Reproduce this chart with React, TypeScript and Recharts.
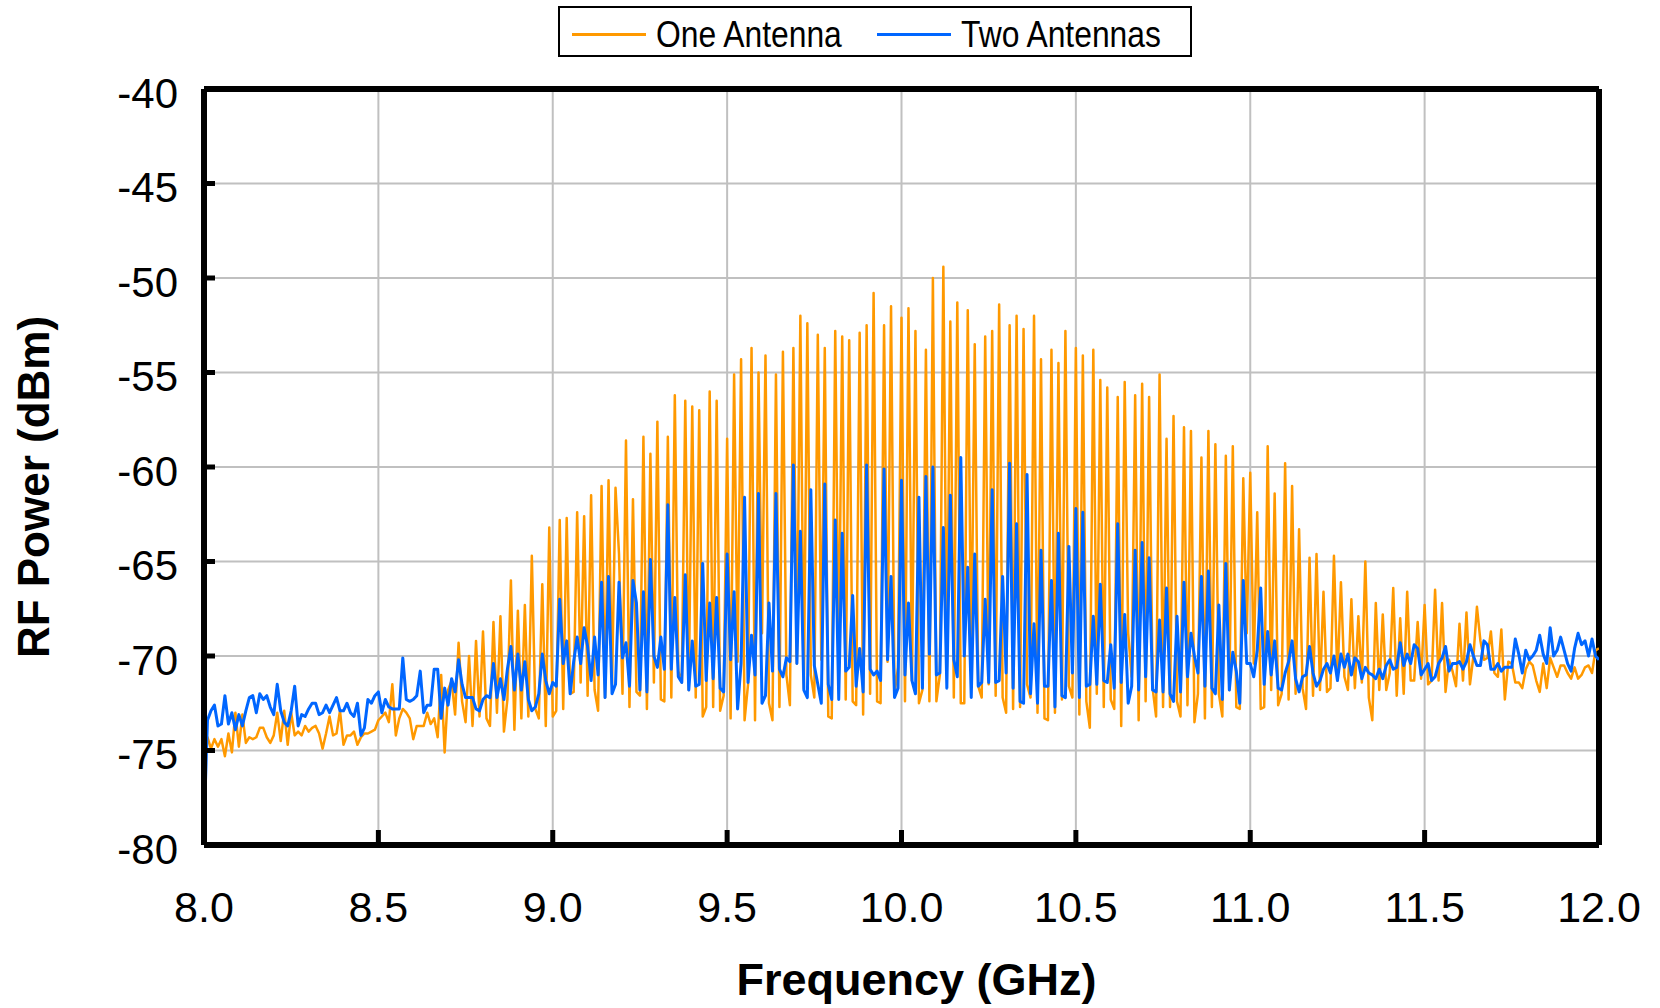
import { LineChart, Line, XAxis, YAxis, CartesianGrid, ReferenceLine } from 'recharts';

// frequency grid of the sweep (GHz)
const freqStart = 8.0;
const freqStep = 0.01;

const xTicks = [8, 8.5, 9, 9.5, 10, 10.5, 11, 11.5, 12];
const yTicks = [-80, -75, -70, -65, -60, -55, -50, -45, -40];

// RF power (dBm), one value per 10 MHz step from 8.00 GHz
const oneAntenna = [
  -76.0, -74.3, -74.9, -74.4, -74.8, -74.4, -75.3, -74.1, -75.1, -73.0,
  -74.8, -73.1, -74.6, -74.3, -74.4, -74.3, -73.8, -73.8, -74.3, -74.6,
  -74.2, -73.0, -74.5, -72.9, -74.7, -73.0, -74.2, -74.0, -74.2, -73.7,
  -74.0, -73.8, -73.7, -74.1, -74.9, -74.1, -73.2, -74.2, -74.1, -72.9,
  -74.7, -74.2, -74.2, -74.0, -74.7, -74.3, -74.1, -74.1, -74.0, -73.9,
  -73.4, -73.2, -73.0, -73.5, -71.5, -74.2, -73.3, -72.8, -73.0, -73.3,
  -74.4, -73.7, -73.7, -73.7, -73.0, -73.6, -73.3, -74.3, -71.0, -75.1,
  -71.8, -71.3, -73.1, -69.3, -72.4, -73.5, -70.0, -73.7, -69.2, -73.2,
  -68.7, -73.3, -73.7, -68.2, -73.0, -67.9, -74.0, -72.3, -66.0, -73.9,
  -67.6, -73.3, -67.3, -73.2, -64.7, -72.8, -73.3, -66.2, -73.7, -63.2,
  -73.2, -72.9, -62.8, -72.8, -62.7, -72.0, -71.9, -62.4, -71.4, -62.6,
  -72.1, -61.5, -71.8, -72.9, -61.0, -72.2, -60.7, -71.5, -61.1, -64.6,
  -72.0, -58.6, -72.7, -61.7, -71.9, -72.1, -58.4, -72.8, -59.3, -71.4,
  -57.6, -72.3, -72.4, -58.4, -72.2, -56.2, -70.8, -71.4, -56.5, -71.8,
  -56.8, -72.2, -57.0, -73.2, -72.7, -56.0, -72.7, -56.5, -72.9, -72.1,
  -58.5, -73.3, -55.1, -70.3, -54.3, -73.4, -71.5, -53.7, -73.4, -55.0,
  -68.8, -54.1, -72.5, -73.4, -55.1, -72.7, -53.9, -71.0, -72.6, -53.7,
  -70.4, -52.0, -71.7, -52.4, -71.0, -72.2, -53.0, -70.2, -53.7, -73.2,
  -73.3, -52.8, -70.4, -53.1, -72.3, -53.3, -72.4, -72.6, -52.9, -73.1,
  -52.5, -72.0, -50.8, -72.4, -72.5, -52.5, -70.3, -51.5, -72.0, -70.6,
  -52.1, -72.4, -51.6, -71.3, -52.8, -72.5, -71.8, -53.8, -72.4, -50.0,
  -72.4, -71.0, -49.4, -70.6, -52.3, -72.2, -51.3, -72.5, -72.5, -51.7,
  -70.4, -53.5, -71.6, -72.2, -53.1, -71.5, -52.8, -72.1, -51.4, -72.2,
  -73.0, -52.5, -72.8, -52.0, -72.7, -52.7, -71.5, -72.2, -52.0, -73.0,
  -54.3, -73.3, -73.4, -53.8, -73.0, -54.5, -72.3, -52.8, -71.6, -72.2,
  -53.7, -73.1, -54.1, -72.4, -73.8, -53.8, -72.0, -55.4, -72.7, -55.8,
  -72.3, -72.8, -56.3, -73.7, -55.5, -68.8, -71.1, -56.2, -73.4, -55.6,
  -72.4, -56.3, -71.7, -73.2, -55.1, -72.7, -58.5, -72.7, -57.3, -72.4,
  -73.2, -57.9, -72.6, -58.1, -73.5, -72.0, -59.5, -73.3, -58.1, -72.7,
  -58.8, -72.0, -73.2, -59.4, -71.8, -58.9, -72.7, -72.8, -60.6, -68.8,
  -60.3, -70.4, -62.4, -72.8, -72.7, -58.9, -71.8, -61.4, -72.6, -72.0,
  -59.8, -72.3, -61.0, -72.0, -63.3, -71.7, -72.8, -64.8, -72.1, -64.6,
  -71.8, -66.6, -71.9, -71.7, -64.7, -71.3, -66.1, -71.1, -71.8, -67.0,
  -71.7, -67.9, -71.4, -65.0, -72.2, -73.4, -67.2, -71.8, -67.8, -71.8,
  -70.9, -66.4, -72.1, -68.0, -72.0, -66.6, -71.3, -71.3, -68.2, -71.2,
  -67.3, -71.5, -71.3, -66.5, -71.3, -67.2, -71.9, -70.2, -70.8, -71.6,
  -68.3, -71.3, -67.7, -71.5, -70.0, -67.4, -69.2, -70.2, -70.1, -68.7,
  -70.9, -71.1, -68.6, -72.3, -70.3, -70.4, -71.4, -71.4, -71.7, -70.7,
  -70.3, -70.5, -71.3, -71.9, -70.4, -71.7, -70.1, -70.6, -71.1, -70.5,
  -70.5, -70.9, -71.2, -70.6, -71.2, -71.0, -70.6, -70.5, -70.9, -69.7,
  -69.6,
];

const twoAntennas = [
  -79.0, -73.4, -72.9, -72.6, -73.7, -73.6, -72.1, -73.6, -73.0, -73.9,
  -73.1, -73.7, -72.9, -72.2, -72.1, -73.0, -72.0, -72.3, -72.1, -72.7,
  -73.1, -71.5, -72.9, -73.5, -73.7, -72.9, -71.6, -73.7, -73.1, -73.2,
  -72.8, -72.5, -72.5, -73.1, -73.0, -72.6, -73.0, -72.6, -72.2, -72.9,
  -72.9, -72.5, -73.0, -73.2, -72.5, -74.2, -73.8, -72.3, -72.5, -72.1,
  -71.9, -73.0, -72.3, -72.7, -72.8, -72.8, -72.8, -70.1, -72.3, -72.4,
  -72.3, -72.1, -70.8, -73.0, -72.6, -72.6, -70.7, -70.7, -73.3, -71.7,
  -72.6, -71.2, -71.9, -70.2, -71.5, -72.2, -72.2, -72.2, -72.8, -72.9,
  -72.3, -72.1, -72.2, -70.4, -72.2, -71.2, -72.3, -70.7, -69.5, -71.8,
  -69.9, -71.8, -70.3, -72.3, -72.9, -72.7, -72.0, -69.9, -71.3, -72.0,
  -71.4, -71.6, -67.0, -70.4, -69.2, -72.0, -70.3, -69.0, -70.4, -68.5,
  -69.5, -71.3, -69.0, -71.0, -66.1, -72.2, -65.8, -72.0, -71.5, -66.1,
  -70.1, -69.3, -71.6, -66.0, -67.2, -71.8, -66.6, -71.9, -64.9, -70.0,
  -70.6, -69.0, -70.7, -62.0, -70.7, -66.9, -71.1, -71.4, -65.7, -71.8,
  -69.2, -71.6, -71.5, -65.1, -71.3, -67.2, -71.2, -66.9, -71.7, -71.9,
  -64.6, -70.2, -66.6, -72.8, -70.4, -61.6, -71.4, -68.9, -71.0, -61.4,
  -72.5, -72.1, -67.2, -70.8, -61.4, -70.7, -71.1, -70.1, -70.3, -59.9,
  -70.4, -63.4, -71.8, -72.2, -61.2, -70.5, -71.5, -72.5, -60.9, -71.5,
  -72.3, -62.8, -72.3, -63.5, -70.8, -70.6, -66.8, -71.6, -69.6, -71.9,
  -59.9, -70.7, -71.0, -70.8, -71.3, -60.1, -70.2, -65.8, -72.2, -71.7,
  -60.7, -71.0, -67.2, -71.3, -72.0, -61.6, -71.7, -60.5, -69.9, -60.0,
  -71.0, -70.9, -63.2, -71.7, -61.5, -70.2, -71.1, -59.5, -70.0, -65.3,
  -72.2, -64.6, -71.6, -71.4, -67.0, -71.4, -61.2, -71.4, -71.3, -65.8,
  -70.9, -59.8, -71.7, -63.0, -72.4, -72.5, -60.4, -72.0, -68.3, -72.5,
  -64.4, -71.6, -71.6, -66.0, -72.7, -63.5, -72.1, -72.2, -64.2, -70.9,
  -62.2, -72.2, -62.4, -71.6, -71.5, -67.9, -71.5, -66.2, -71.3, -71.4,
  -69.4, -71.7, -63.0, -71.4, -67.8, -72.5, -71.6, -64.4, -71.8, -64.0,
  -71.1, -64.8, -71.8, -71.9, -68.1, -71.9, -66.4, -72.0, -72.4, -67.9,
  -71.9, -66.1, -71.1, -68.8, -70.0, -70.9, -65.8, -71.6, -65.5, -71.7,
  -72.0, -67.3, -72.3, -65.1, -71.8, -69.8, -70.8, -72.5, -66.0, -70.4,
  -70.4, -71.1, -69.7, -66.4, -71.5, -68.7, -71.0, -69.2, -71.7, -71.8,
  -70.9, -70.3, -69.2, -71.2, -71.9, -71.1, -71.0, -69.5, -70.9, -71.6,
  -71.3, -70.7, -70.4, -70.9, -70.0, -71.3, -69.9, -70.6, -69.9, -71.0,
  -70.1, -70.3, -71.2, -70.6, -70.9, -71.0, -71.2, -70.7, -71.2, -70.5,
  -70.2, -70.7, -70.6, -69.3, -70.5, -69.9, -70.4, -69.4, -69.6, -71.0,
  -70.7, -70.4, -71.3, -71.1, -70.4, -70.1, -69.5, -70.8, -70.4, -70.4,
  -70.3, -70.7, -70.3, -69.4, -70.0, -70.5, -70.5, -69.2, -69.4, -70.7,
  -70.7, -70.4, -70.8, -70.6, -70.6, -70.6, -69.1, -69.9, -70.9, -69.7,
  -70.2, -70.0, -69.7, -68.9, -69.9, -70.4, -68.5, -70.0, -69.7, -69.0,
  -69.7, -70.4, -70.8, -69.6, -68.8, -69.4, -69.2, -70.0, -69.1, -70.0,
  -70.2,
];

const series = [
  { key: 'one', name: 'One Antenna', color: '#FF9900', width: 2.5 },
  { key: 'two', name: 'Two Antennas', color: '#0066FF', width: 3 },
];

const data = oneAntenna.map((v, i) => ({
  freq: Math.round((freqStart + i * freqStep) * 100) / 100,
  one: v,
  two: twoAntennas[i],
}));

const FONT = '"Liberation Sans", Arial, Helvetica, sans-serif';

const renderXTitle = (props: any) => {
  const vb = props.viewBox;
  return (
    <text
      x={vb.x + vb.width / 2 + 15}
      y={vb.y + 150}
      textAnchor="middle"
      fontFamily={FONT}
      fontWeight="bold"
      fontSize={45}
      fill="#000"
    >
      Frequency (GHz)
    </text>
  );
};

const renderYTitle = (props: any) => {
  const vb = props.viewBox;
  const cx = 33;
  const cy = vb.y + vb.height / 2 + 20;
  return (
    <text
      x={cx}
      y={cy}
      transform={`rotate(-90, ${cx}, ${cy})`}
      textAnchor="middle"
      dominantBaseline="central"
      fontFamily={FONT}
      fontWeight="bold"
      fontSize={44}
      fill="#000"
    >
      RF Power (dBm)
    </text>
  );
};

// legend item offsets inside the box (px)
const legendItemLeft = [14, 319];

const ChartLegend = () => (
  <div
    style={{
      position: 'absolute',
      left: 558,
      top: 6,
      width: 634,
      height: 51,
      boxSizing: 'border-box',
      border: '2px solid #000',
      background: '#fff',
      fontFamily: FONT,
      fontSize: 37,
      color: '#000',
      whiteSpace: 'nowrap',
    }}
  >
    {series.map((s, i) => (
      <div
        key={s.key}
        style={{ position: 'absolute', left: legendItemLeft[i] - 2, top: 3, height: 47, display: 'flex', alignItems: 'center' }}
      >
        <div style={{ width: 74, height: 3, background: s.color, marginRight: 10 }} />
        <span style={{ display: 'inline-block', transform: 'scaleX(0.86)', transformOrigin: 'left center', lineHeight: '47px' }}>
          {s.name}
        </span>
      </div>
    ))}
  </div>
);

export default function App() {
  return (
    <div style={{ position: 'absolute', left: 0, top: 0, width: 1660, height: 1008, background: '#fff' }}>
      <LineChart
        width={1660}
        height={1008}
        data={data}
        margin={{ top: 89, right: 61, bottom: 0, left: 54 }}
      >
        <CartesianGrid stroke="#c0c0c0" strokeWidth={2} />
        <XAxis
          dataKey="freq"
          type="number"
          domain={[8, 12]}
          ticks={xTicks}
          interval={0}
          allowDataOverflow
          height={163}
          tickFormatter={(v: number) => v.toFixed(1)}
          axisLine={{ stroke: '#000', strokeWidth: 6 }}
          tickLine={{ stroke: '#000', strokeWidth: 5 }}
          tickSize={-15}
          tickMargin={61}
          tick={{ fill: '#000', fontSize: 43, fontFamily: FONT }}
          label={renderXTitle}
        />
        <YAxis
          type="number"
          domain={[-80, -40]}
          ticks={yTicks}
          interval={0}
          allowDataOverflow
          width={150}
          axisLine={{ stroke: '#000', strokeWidth: 6 }}
          tickLine={{ stroke: '#000', strokeWidth: 5 }}
          tickSize={-11}
          tickMargin={37}
          tick={{ fill: '#000', fontSize: 42, fontFamily: FONT, dy: 4 }}
          label={renderYTitle}
        />
        <ReferenceLine y={-40} stroke="#000" strokeWidth={6} />
        <ReferenceLine x={12} stroke="#000" strokeWidth={6} />
        {series.map((s) => (
          <Line
            key={s.key}
            type="linear"
            dataKey={s.key}
            name={s.name}
            stroke={s.color}
            strokeWidth={s.width}
            strokeLinejoin="round"
            dot={false}
            activeDot={false}
            isAnimationActive={false}
          />
        ))}
      </LineChart>
      <ChartLegend />
    </div>
  );
}
